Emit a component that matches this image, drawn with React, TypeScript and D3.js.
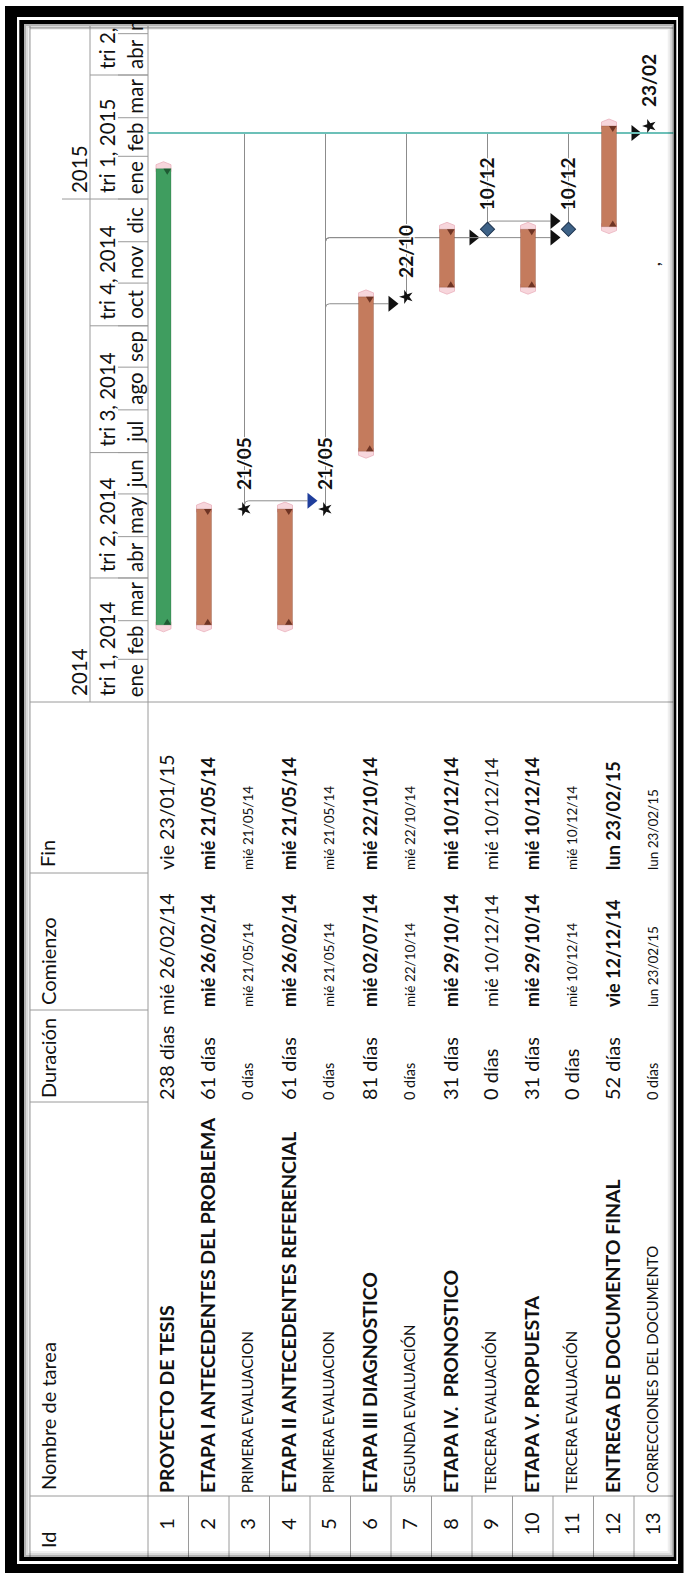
import React from 'react';
import * as d3 from 'd3';

const W = 687;
const H = 1578;

// ---- table data ----
const ids = [1, 2, 3, 4, 5, 6, 7, 8, 9, 10, 11, 12, 13];
const names = [
  'PROYECTO DE TESIS',
  'ETAPA I ANTECEDENTES DEL PROBLEMA',
  'PRIMERA EVALUACION',
  'ETAPA II ANTECEDENTES REFERENCIAL',
  'PRIMERA EVALUACION',
  'ETAPA III DIAGNOSTICO',
  'SEGUNDA EVALUACIÓN',
  'ETAPA IV.  PRONOSTICO',
  'TERCERA EVALUACIÓN',
  'ETAPA V. PROPUESTA',
  'TERCERA EVALUACIÓN',
  'ENTREGA DE DOCUMENTO FINAL',
  'CORRECCIONES DEL DOCUMENTO',
];
const nameStyle = ['B', 'B', 'S', 'B', 'S', 'B', 'S', 'B', 'S', 'B', 'S', 'B', 'S'];
const durations = ['238 días', '61 días', '0 días', '61 días', '0 días', '81 días', '0 días', '31 días', '0 días', '31 días', '0 días', '52 días', '0 días'];
const durStyle = ['N', 'N', 'S', 'N', 'S', 'N', 'S', 'N', 'N', 'N', 'N', 'N', 'S'];
const startLabels = ['mié 26/02/14', 'mié 26/02/14', 'mié 21/05/14', 'mié 26/02/14', 'mié 21/05/14', 'mié 02/07/14', 'mié 22/10/14', 'mié 29/10/14', 'mié 10/12/14', 'mié 29/10/14', 'mié 10/12/14', 'vie 12/12/14', 'lun 23/02/15'];
const endLabels = ['vie 23/01/15', 'mié 21/05/14', 'mié 21/05/14', 'mié 21/05/14', 'mié 21/05/14', 'mié 22/10/14', 'mié 22/10/14', 'mié 10/12/14', 'mié 10/12/14', 'mié 10/12/14', 'mié 10/12/14', 'lun 23/02/15', 'lun 23/02/15'];
const dateStyle = ['N', 'B', 'S', 'B', 'S', 'B', 'S', 'B', 'N', 'B', 'S', 'B', 'S'];

// ---- gantt data ----
const barKind = ['summary', 'task', 'star', 'task', 'star', 'task', 'star', 'task', 'diamond', 'task', 'diamond', 'task', 'star'];
const barStart = ['2014-02-26', '2014-02-26', '2014-05-21', '2014-02-26', '2014-05-21', '2014-07-02', '2014-10-22', '2014-10-29', '2014-12-10', '2014-10-29', '2014-12-10', '2014-12-12', '2015-02-23'];
const barEnd = ['2015-01-23', '2014-05-21', '2014-05-21', '2014-05-21', '2014-05-21', '2014-10-22', '2014-10-22', '2014-12-10', '2014-12-10', '2014-12-10', '2014-12-10', '2015-02-23', '2015-02-23'];
const milestoneLabels = ['', '', '21/05', '', '21/05', '', '22/10', '', '10/12', '', '10/12', '', '23/02'];
const statusDate = '2015-02-18';
const linkFrom = [3, 5, 5, 5, 9, 12];
const linkTo = [5, 7, 9, 11, 11, 13];
const linkDate = ['2014-05-27', '2014-10-17', '2014-12-04', '2014-12-04', '2014-12-16', '2015-02-18'];
const monthNames = ['ene', 'feb', 'mar', 'abr', 'may', 'jun', 'jul', 'ago', 'sep', 'oct', 'nov', 'dic'];

const parse = d3.utcParse('%Y-%m-%d');
const FONT = "Lato, 'Open Sans', sans-serif";

// layout (unrotated: u runs along the page height, v along the width)
const HEAD_TOP = 30;
const HEAD_BOTTOM = 148;
const ROW_H = 40.5;
const TIER1 = 90;
const COL_ID = 82;
const COL_NAME = 476;
const COL_DUR = 568;
const COL_START = 705;
const CHART_U = 876;
const CHART_END = 1552;
const V_END = 680;

const x = d3
  .scaleUtc()
  .domain([Date.UTC(2014, 0, 1), Date.UTC(2015, 0, 1)])
  .range([CHART_U, CHART_U + 365 * 1.378]);
const y = d3
  .scaleBand<number>()
  .domain(ids)
  .range([HEAD_BOTTOM, HEAD_BOTTOM + ids.length * ROW_H]);

const size = (col: string, s: string, i: number) => {
  if (col === 'name') return s === 'B' ? 19.5 : 15;
  if (col === 'dur') return s === 'S' ? 14.5 : 20;
  if (i === 0) return 19.5;
  return s === 'S' ? 13.5 : 18;
};
const base = (id: number, s: string) => (y(id) as number) + (s === 'S' ? 23.5 : 26);

const App: React.FC = () => {
  const months = d3.utcMonth.range(new Date(Date.UTC(2014, 0, 1)), new Date(Date.UTC(2015, 6, 1)));
  const quarters = d3.utcMonth.every(3)!.range(new Date(Date.UTC(2014, 0, 1)), new Date(Date.UTC(2015, 6, 1)));
  const years = [new Date(Date.UTC(2014, 0, 1)), new Date(Date.UTC(2015, 0, 1))];
  const uStatus = x(parse(statusDate)!);
  const mid = (id: number) => (y(id) as number) + 15.5;
  const star = d3.symbol().type(d3.symbolStar).size(62)() as string;
  const diamond = d3.symbol().type(d3.symbolSquare).size(100)() as string;

  const taskFill = (k: string) => (k === 'summary' ? '#3f9d5f' : '#c47b5d');
  const notchFill = (k: string) => (k === 'summary' ? '#1f5a33' : '#6e3424');

  return (
    <svg width={W} height={H} style={{ position: 'absolute', left: 0, top: 0, background: '#fff' }} fontFamily={FONT}>
      <defs>
        <clipPath id="content">
          <rect x={24} y={24} width={649.7} height={1533} />
        </clipPath>
        <clipPath id="durClip">
          <rect x={COL_NAME} y={0} width={COL_DUR - COL_NAME - 2} height={800} />
        </clipPath>
        <clipPath id="startClip">
          <rect x={COL_DUR - 8} y={0} width={COL_START - COL_DUR + 1} height={800} />
        </clipPath>
        <clipPath id="finClip">
          <rect x={COL_START} y={0} width={CHART_U - COL_START - 2} height={800} />
        </clipPath>
      </defs>

      {/* frame */}
      <rect x={5} y={6} width={678.5} height={1567} fill="#000" />
      <rect x={17} y={17} width={661} height={1547} fill="#fff" />
      <rect x={19.3} y={20} width={657} height={1541} fill="#000" />
      <rect x={24} y={24} width={649.7} height={1533} fill="#fff" />

      <g clipPath="url(#content)">
        <g transform={`translate(0,${H}) rotate(-90)`}>
          {/* grid */}
          <g stroke="#9a9a9a" strokeWidth={1} fill="none">
            <line x1={0} x2={CHART_END} y1={HEAD_TOP} y2={HEAD_TOP} />
            <line x1={0} x2={CHART_END} y1={HEAD_BOTTOM} y2={HEAD_BOTTOM} />
            <line x1={COL_ID} x2={COL_ID} y1={HEAD_TOP} y2={V_END} />
            <line x1={COL_NAME} x2={COL_NAME} y1={HEAD_TOP} y2={HEAD_BOTTOM} />
            <line x1={COL_DUR} x2={COL_DUR} y1={HEAD_TOP} y2={HEAD_BOTTOM} />
            <line x1={COL_START} x2={COL_START} y1={HEAD_TOP} y2={HEAD_BOTTOM} />
            <line x1={CHART_U} x2={CHART_U} y1={HEAD_TOP} y2={V_END} />
            <line x1={CHART_U} x2={CHART_END} y1={TIER1} y2={TIER1} />
            <line x1={CHART_END - 2} x2={CHART_END - 2} y1={HEAD_TOP} y2={V_END} />
            {ids.map(id => (
              <line key={id} x1={0} x2={COL_ID} y1={(y(id) as number) + ROW_H} y2={(y(id) as number) + ROW_H} />
            ))}
            {years.slice(1).map((d, i) => (
              <line key={i} x1={x(d)} x2={x(d)} y1={62} y2={TIER1} />
            ))}
            {quarters.slice(1).map((d, i) => (
              <line key={i} x1={x(d)} x2={x(d)} y1={TIER1} y2={HEAD_BOTTOM} />
            ))}
            {months.slice(1).map((d, i) => (
              <line key={i} x1={x(d)} x2={x(d)} y1={118} y2={HEAD_BOTTOM} />
            ))}
          </g>

          {/* header */}
          <g fontSize={20} fill="#111">
            <text x={30} y={56}>Id</text>
            <text x={88} y={56}>Nombre de tarea</text>
            <text x={COL_NAME + 4} y={56}>Duración</text>
            <text x={COL_DUR + 5} y={56}>Comienzo</text>
            <text x={COL_START + 6} y={55}>Fin</text>
          </g>
          <g fontSize={20.5} fill="#111">
            {years.map((d, i) => (
              <text key={i} x={x(d) + 6} y={87}>{d.getUTCFullYear()}</text>
            ))}
            {quarters.map((d, i) => (
              <text key={i} x={x(d) + 6} y={115}>{`tri ${Math.floor(d.getUTCMonth() / 3) + 1}, ${d.getUTCFullYear()}`}</text>
            ))}
            {months.map((d, i) => (
              <text key={i} x={(x(d) + x(d3.utcMonth.offset(d, 1))) / 2} y={143} textAnchor="middle">
                {monthNames[d.getUTCMonth()]}
              </text>
            ))}
          </g>

          {/* rows */}
          <g fill="#111">
            {ids.map((id, i) => (
              <g key={id}>
                <text x={54} y={base(id, 'N')} fontSize={20} textAnchor="middle">{id}</text>
                <text
                  x={85}
                  y={base(id, nameStyle[i])}
                  fontSize={size('name', nameStyle[i], i)}
                  fontWeight={nameStyle[i] === 'B' ? 700 : 400}
                  style={{ whiteSpace: 'pre' }}
                >
                  {names[i]}
                </text>
                <text x={COL_NAME + 2} y={base(id, durStyle[i])} fontSize={size('dur', durStyle[i], i)} clipPath="url(#durClip)">
                  {durations[i]}
                </text>
                <text x={i === 0 ? COL_DUR - 5 : COL_DUR + 3} y={base(id, dateStyle[i])} fontSize={size('date', dateStyle[i], i)} fontWeight={dateStyle[i] === 'B' ? 700 : 400} clipPath="url(#startClip)">
                  {startLabels[i]}
                </text>
                <text x={COL_START + 3} y={base(id, dateStyle[i])} fontSize={size('date', dateStyle[i], i)} fontWeight={dateStyle[i] === 'B' ? 700 : 400} clipPath="url(#finClip)">
                  {endLabels[i]}
                </text>
              </g>
            ))}
          </g>

          {/* slack lines from milestones to the status date */}
          <g stroke="#8c8c8c" strokeWidth={1}>
            {ids.map((id, i) =>
              barKind[i] === 'star' || barKind[i] === 'diamond' ? (
                x(parse(barStart[i])!) < uStatus ? (
                  <line key={id} x1={x(parse(barStart[i])!)} x2={uStatus} y1={mid(id)} y2={mid(id)} />
                ) : null
              ) : null
            )}
          </g>

          {/* links */}
          <g>
            {linkFrom.map((f, i) => {
              const u = x(parse(linkDate[i])!);
              const v0 = mid(f);
              const v1 = mid(linkTo[i]) - 18;
              const col = i === 0 ? '#1f3e9c' : '#111';
              return (
                <g key={i}>
                  <path d={`M${u - 4},${v0} Q${u},${v0} ${u},${v0 + 4} L${u},${v1}`} fill="none" stroke="#8c8c8c" strokeWidth={1} />
                  <path d={`M${u - 8},${v1} L${u + 8},${v1} L${u},${v1 + 10} Z`} fill={col} />
                </g>
              );
            })}
          </g>

          {/* status line */}
          <line x1={uStatus} x2={uStatus} y1={HEAD_BOTTOM} y2={V_END} stroke="#6cc0b8" strokeWidth={2} />

          {/* bars */}
          {ids.map((id, i) => {
            const k = barKind[i];
            const c = mid(id);
            const u0 = x(parse(barStart[i])!);
            const u1 = x(parse(barEnd[i])!);
            if (k === 'task' || k === 'summary') {
              const h = 7.5;
              return (
                <g key={id}>
                  <path d={`M${u0 + 3},${c - h} L${u0 - 4},${c - h} L${u0 - 7},${c} L${u0 - 4},${c + h} L${u0 + 3},${c + h} Z`} fill="#f7d6dc" stroke="#eab1bc" strokeWidth={0.8} />
                  <path d={`M${u1 - 3},${c - h} L${u1 + 4},${c - h} L${u1 + 7},${c} L${u1 + 4},${c + h} L${u1 - 3},${c + h} Z`} fill="#f7d6dc" stroke="#eab1bc" strokeWidth={0.8} />
                  <rect x={u0} y={c - h} width={u1 - u0} height={2 * h} fill={taskFill(k)} />
                  <rect x={u0} y={c - h} width={u1 - u0} height={2 * h} fill="none" stroke={notchFill(k)} strokeOpacity={0.25} />
                  <path d={`M${u0},${c} L${u0 + 6},${c + h / 2} L${u0},${c + h} Z`} fill={notchFill(k)} />
                  <path d={`M${u1},${c} L${u1 - 6},${c + h / 2} L${u1},${c + h} Z`} fill={notchFill(k)} />
                </g>
              );
            }
            return (
              <g key={id}>
                {k === 'star' ? (
                  <path d={star} transform={`translate(${u0},${c})`} fill="#111" />
                ) : (
                  <path d={diamond} transform={`translate(${u0},${c}) rotate(45)`} fill="#3e6287" stroke="#1e3450" strokeWidth={1} />
                )}
                <text
                  x={u0 + 19}
                  y={c + 6}
                  fontSize={19}
                  fontWeight={700}
                  fill="#111"
                  stroke="#fff"
                  strokeWidth={3}
                  style={{ paintOrder: 'stroke' }}
                >
                  {milestoneLabels[i]}
                </text>
              </g>
            );
          })}

          <text x={1312} y={660} fontSize={16} fontWeight={700} fill="#222">,</text>
        </g>
      </g>

      {/* inner shadow */}
      <g fill="none" stroke="#000">
        <rect x={25} y={25} width={647.7} height={1531} strokeWidth={2} strokeOpacity={0.3} />
        <rect x={27} y={27} width={643.7} height={1527} strokeWidth={2} strokeOpacity={0.14} />
        <rect x={29} y={29} width={639.7} height={1523} strokeWidth={2} strokeOpacity={0.06} />
      </g>
    </svg>
  );
};

export default App;
